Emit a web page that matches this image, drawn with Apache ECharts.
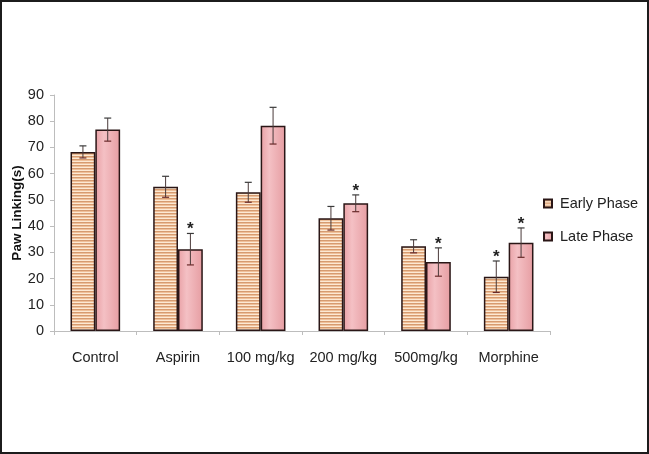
<!DOCTYPE html>
<html>
<head>
<meta charset="utf-8">
<script src="https://cdn.jsdelivr.net/npm/echarts@6/dist/echarts.min.js"></script>
<style>
html,body{margin:0;padding:0;background:#fff;}
#chart{width:649px;height:454px;}
</style>
</head>
<body>
<div id="chart"></div>
<script>
var categories = ['Control', 'Aspirin', '100 mg/kg', '200 mg/kg', '500mg/kg', 'Morphine'];
var earlyPhase = [68.3, 55.0, 52.9, 43.0, 32.3, 20.7];
var latePhase  = [76.8, 31.2, 78.3, 48.7, 26.3, 33.7];
var earlyErr   = [2.3, 4.0, 3.8, 4.5, 2.5, 6.0];
var lateErr    = [4.4, 6.0, 7.0, 3.2, 5.4, 5.6];
var earlySig   = [0, 0, 0, 0, 0, 1];
var lateSig    = [0, 1, 0, 1, 1, 1];
var yTicks = [0, 10, 20, 30, 40, 50, 60, 70, 80, 90];

var stripe = document.createElement('canvas');
stripe.width = 4; stripe.height = 3;
var sc = stripe.getContext('2d');
sc.fillStyle = '#fce9d4'; sc.fillRect(0, 0, 4, 3);
sc.fillStyle = '#d69b70'; sc.fillRect(0, 0, 4, 1);
sc.fillStyle = '#efc09a'; sc.fillRect(0, 1, 4, 1);

var pinkFill = new echarts.graphic.LinearGradient(0, 0, 1, 0, [
  {offset: 0, color: '#e9a1a6'},
  {offset: 0.35, color: '#f4c0c4'},
  {offset: 1, color: '#e69da2'}
]);

var BAR_W = 24.8;

function errSeries(name, vals, errs, sig, offset) {
  var data = vals.map(function (v, i) { return [i, v, errs[i], sig[i]]; });
  return {
    type: 'custom',
    name: name + ' err',
    z: 5,
    silent: true,
    data: data,
    encode: {x: 0, y: 1},
    renderItem: function (params, api) {
      var i = api.value(0), v = api.value(1), e = api.value(2), s = api.value(3);
      var top = api.coord([i, v + e]);
      var bot = api.coord([i, v - e]);
      var x = top[0] + offset;
      var cap = 3.5;
      var children = [
        {type: 'line', shape: {x1: x, y1: top[1], x2: x, y2: bot[1]}, style: {stroke: '#4a3a3a', lineWidth: 1}},
        {type: 'line', shape: {x1: x - cap, y1: top[1], x2: x + cap, y2: top[1]}, style: {stroke: '#3a3a3a', lineWidth: 1.2}},
        {type: 'line', shape: {x1: x - cap, y1: bot[1], x2: x + cap, y2: bot[1]}, style: {stroke: '#6a2a2a', lineWidth: 1.2}}
      ];
      if (s) {
        children.push({type: 'text', style: {text: '*', x: x, y: top[1] - 4, align: 'center', verticalAlign: 'middle',
          font: 'bold 17px "Liberation Sans", Arial, sans-serif', fill: '#222'}});
      }
      return {type: 'group', children: children};
    }
  };
}

var chart = echarts.init(document.getElementById('chart'), null, {renderer: 'canvas'});
chart.setOption({
  animation: false,
  backgroundColor: '#fff',
  textStyle: {fontFamily: '"Liberation Sans", Arial, sans-serif'},
  grid: {left: 54, top: 95, right: 99, bottom: 123, containLabel: false, outerBoundsMode: 'none'},
  graphic: [{
    type: 'rect', silent: true, z: 100,
    shape: {x: 1, y: 1, width: 647, height: 452},
    style: {fill: 'none', stroke: '#1c1c1c', lineWidth: 2}
  }],
  legend: {
    orient: 'vertical', left: 543, top: 196, itemGap: 18, padding: 0,
    itemWidth: 8, itemHeight: 8, icon: 'rect',
    data: ['Early Phase', 'Late Phase'],
    textStyle: {fontSize: 14.5, color: '#222', padding: [0, 0, 0, 3], fontFamily: '"Liberation Sans", Arial, sans-serif'}
  },
  xAxis: {
    type: 'category', data: categories,
    axisLine: {lineStyle: {color: '#bdbdbd', width: 1}},
    axisTick: {show: true, length: 4, lineStyle: {color: '#bdbdbd'}},
    axisLabel: {fontSize: 14.5, color: '#222', margin: 19, interval: 0}
  },
  yAxis: {
    type: 'value', min: yTicks[0], max: yTicks[yTicks.length - 1], interval: 10,
    name: 'Paw Linking(s)', nameLocation: 'middle', nameGap: 30, nameRotate: 90, nameMoveOverlap: false,
    nameTextStyle: {fontSize: 13.5, fontWeight: 'bold', color: '#111'},
    axisLine: {show: true, lineStyle: {color: '#bdbdbd', width: 1}},
    axisTick: {show: true, length: 4, lineStyle: {color: '#bdbdbd'}},
    axisLabel: {fontSize: 14.5, color: '#222', margin: 10},
    splitLine: {show: false}
  },
  series: [
    {
      name: 'Early Phase', type: 'bar', data: earlyPhase, barWidth: BAR_W, barGap: '0%',
      itemStyle: {color: {image: stripe, repeat: 'repeat'}, borderColor: '#2a1616', borderWidth: 1.5}
    },
    {
      name: 'Late Phase', type: 'bar', data: latePhase, barWidth: BAR_W, barGap: '0%',
      itemStyle: {color: pinkFill, borderColor: '#2a1616', borderWidth: 1.5}
    },
    errSeries('Early Phase', earlyPhase, earlyErr, earlySig, -BAR_W / 2),
    errSeries('Late Phase', latePhase, lateErr, lateSig, BAR_W / 2)
  ]
});
</script>
</body>
</html>
